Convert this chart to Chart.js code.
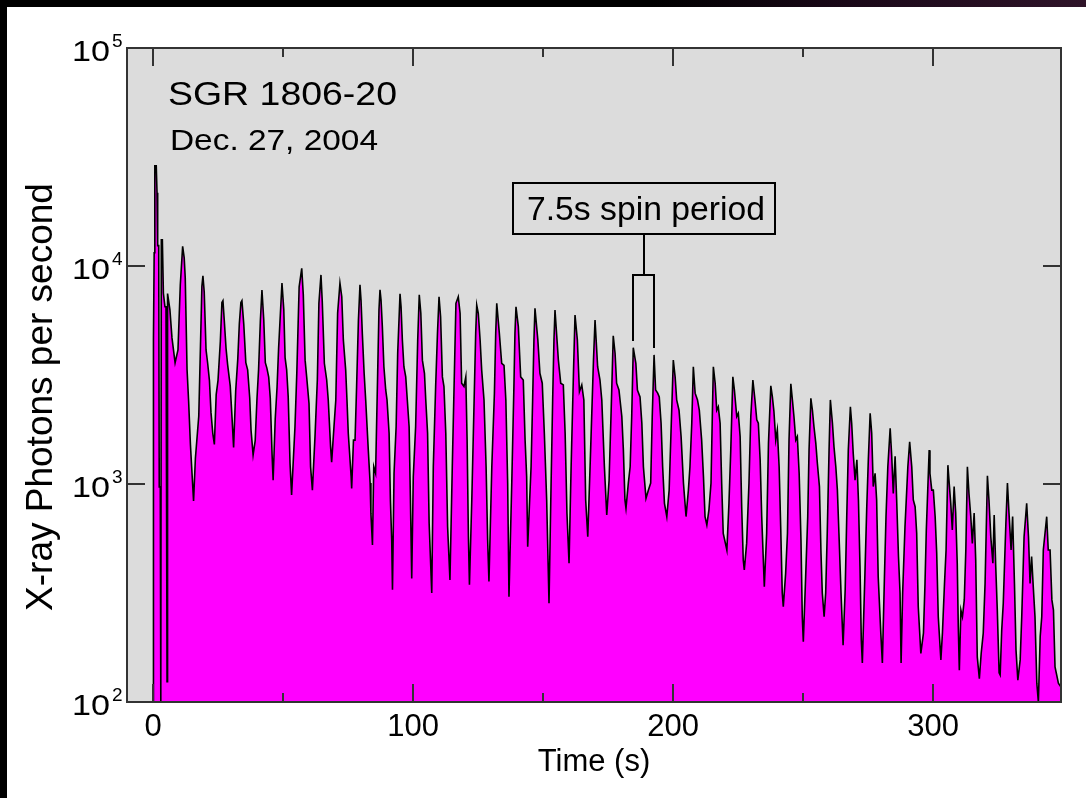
<!DOCTYPE html>
<html>
<head>
<meta charset="utf-8">
<title>SGR 1806-20 light curve</title>
<script src="https://cdn.jsdelivr.net/npm/chart.js@4.4.1/dist/chart.umd.min.js"></script>
<style>
    html, body { margin: 0; padding: 0; background: #ffffff; }
    #wrap { position: relative; width: 1086px; height: 798px; overflow: hidden; }
    #lightCurve { position: absolute; left: 0; top: 0; }
    .edge { position: absolute; z-index: 2; }
    #edgeLeft { left: 0; top: 0; width: 7px; height: 798px; background: #000; }
    #edgeTop { left: 0; top: 0; width: 1086px; height: 7px;
        background: linear-gradient(to right, #000 0%, #000 60%, #1a0818 78%, #2f1429 100%); }
</style>
</head>
<body>
<div id="wrap">
    <canvas id="lightCurve" width="1086" height="798"></canvas>
    <div class="edge" id="edgeLeft"></div>
    <div class="edge" id="edgeTop"></div>
</div>
<script>
// Light curve values (time in s, photons per second)
const timeSec = [
    0.0, 0.1, 0.25, 0.45, 0.7, 1.25, 1.55, 1.8, 2.2, 2.4, 2.8, 3.0, 3.2, 3.6, 4.0, 4.6, 5.0, 5.2, 5.4,
    5.6, 6.5, 7.3, 8.5, 9.6, 10.5, 11.4, 12.0, 12.4, 13.1, 13.7, 14.4, 15.6,
    16.3, 17.6, 18.2, 18.8, 19.2, 19.7, 20.4, 21.0, 21.7, 22.3, 23.0, 23.6,
    24.3, 25.0, 25.9, 26.5, 26.9, 27.4, 28.1, 28.7, 29.7, 30.4, 31.0,
    31.8, 32.6, 33.2, 33.8, 34.2, 34.9, 35.7, 36.4, 37.2, 37.7, 38.5,
    39.3, 40.0, 40.6, 41.3, 41.9, 42.6, 43.2, 43.8, 44.5, 45.1, 45.8, 46.2,
    47.0, 47.7, 48.3, 49.0, 49.6, 50.3, 50.8, 51.4, 52.0, 52.7, 53.3,
    54.6, 55.3, 56.2, 57.2, 57.8, 58.5, 59.1, 60.0, 60.6, 61.3,
    62.3, 63.2, 63.8, 64.6, 65.1, 65.9, 66.8, 67.4, 68.3, 68.7,
    69.6, 70.3, 71.0, 71.9, 72.6, 73.2, 74.1, 74.6, 75.1, 76.2, 76.4,
    77.1, 77.7, 78.3, 79.0, 79.6, 80.0, 80.5, 81.2, 81.8, 82.8, 83.5, 83.8, 84.4,
    84.9, 85.6, 86.4, 86.9, 87.3, 87.7, 88.2, 88.8, 89.5, 90.0, 90.8, 91.3, 91.8, 92.1,
    92.7, 93.5, 94.1, 95.0, 95.4, 95.9, 96.5, 97.2, 97.8, 98.5, 99.0, 99.5,
    100.1, 101.0, 101.8, 102.4, 103.0, 103.6, 104.4, 104.9, 105.6, 106.2, 107.2,
    107.8, 108.7, 109.4, 110.0, 110.6, 111.3, 111.9, 112.6, 113.3, 114.2,
    115.1, 115.9, 116.5, 117.4, 118.1, 118.7, 119.6, 120.3, 120.8, 121.3, 121.7,
    122.6, 123.5, 124.1, 124.5, 125.1, 125.8, 126.4, 127.3, 128.1, 128.7, 129.2,
    130.3, 131.3, 131.8, 132.2, 133.2, 134.1, 135.0, 135.7, 136.4, 136.9,
    138.0, 138.8, 139.2, 139.6, 140.5, 141.4, 142.4, 143.1, 143.7, 144.1,
    145.4, 146.0, 146.5, 146.9, 148.0, 148.8, 149.7, 150.5, 151.4, 152.3,
    153.1, 153.7, 154.2, 154.6, 155.9, 156.8, 157.8, 158.5, 159.2, 160.0,
    160.8, 161.7, 162.3, 163.2, 164.0, 164.9, 165.7, 166.4, 167.2,
    168.3, 169.4, 170.0, 171.0, 171.9, 172.6, 173.6, 174.5,
    175.4, 176.2, 177.0, 177.7, 178.3, 179.2, 180.3, 180.9, 181.5, 181.9,
    182.8, 183.5, 184.1, 184.7, 185.7, 186.3, 187.3, 188.0, 188.6, 189.6,
    190.5, 191.4, 192.0, 192.7, 193.3, 194.1, 194.7, 195.4, 196.0, 196.7, 197.6,
    198.5, 199.2, 200.1, 200.8, 201.4, 202.3, 203.1, 204.0, 205.0,
    205.9, 206.5, 207.2, 207.8, 208.5, 209.4, 210.1, 211.0, 211.7, 212.3, 213.0,
    213.8, 214.6, 215.1, 215.5, 216.2, 216.8, 217.4, 218.1, 218.7, 219.3, 220.7,
    221.5, 222.2, 223.0, 223.6, 224.5, 225.1, 225.8, 226.4, 227.0, 227.4,
    228.3, 229.2, 229.9, 230.7, 231.5, 232.2, 232.8, 233.5, 234.1, 235.1,
    236.0, 236.7, 237.6, 238.2, 238.8, 239.5, 240.1, 240.8, 241.4, 242.0, 242.4,
    243.3, 244.0, 244.6, 245.3, 245.9, 246.5, 247.2, 247.8, 248.5, 249.2, 249.7, 250.1,
    251.0, 251.8, 252.3, 253.0, 253.6, 254.2, 254.9, 255.5, 256.3, 256.9, 257.4, 258.1,
    258.7, 259.3, 260.0, 260.5, 261.3, 261.9, 262.6, 263.2, 263.8, 264.6, 265.4,
    266.2, 266.8, 267.4, 268.2, 268.7, 269.3, 270.0, 270.7, 271.3, 271.9, 272.4, 272.8,
    273.8, 274.5, 275.1, 275.8, 276.4, 277.0, 277.7, 278.3, 278.9, 279.9, 280.5,
    281.3, 281.9, 282.6, 283.5, 284.1, 284.7, 285.4, 286.0, 286.7, 287.3, 287.7,
    288.3, 289.2, 290.3, 291.0, 291.8, 292.4, 293.1, 293.7, 294.3, 295.3,
    296.3, 296.9, 297.4, 298.5, 298.8, 299.5, 300.1, 300.8, 301.4, 302.0, 303.0,
    303.6, 304.4, 305.0, 305.7, 306.2, 306.8, 307.4, 308.1, 308.7, 309.3, 309.7, 310.1,
    310.7, 311.3, 312.0, 312.6, 313.2, 313.8, 314.5, 315.1, 315.8, 316.4, 317.0, 317.8,
    318.5, 319.3, 320.0, 320.9, 321.5, 322.2, 323.0, 323.5, 324.1, 324.7, 325.4, 325.8,
    326.4, 327.0, 328.0, 328.6, 329.2, 330.0, 330.6, 331.3, 331.9, 332.6,
    333.5, 334.1, 335.0, 336.0, 336.7, 337.3, 337.9, 338.6, 339.2, 339.9, 340.5,
    341.2, 341.8, 342.4, 343.7, 344.3, 345.0, 345.7, 346.3, 346.9, 348.2, 349.2
];

const photonRate = [
    100, 750, 4600, 11500, 28800, 28800, 21700, 12400, 12400, 970, 970, 100, 13200, 13200, 7500, 6500, 6500, 990, 124,
    7470, 6310, 4680, 3600, 4120, 8200, 12300, 10900, 8830, 3340, 2400, 1510, 835,
    1310, 2050, 4040, 8060, 9010, 7600, 4120, 3600, 2990, 2130, 1700, 1520,
    2570, 2990, 4510, 6800, 6930, 5650, 4180, 3530, 2820, 2010, 1470,
    2670, 3740, 5430, 6800, 6930, 5430, 3600, 3340, 2480, 1770, 1360,
    1580, 2480, 3340, 5650, 7760, 5650, 3600, 3400, 3090, 2480, 1360, 1040,
    1980, 2770, 4180, 6080, 8350, 6310, 3800, 3340, 2510, 1245, 891,
    1830, 3220, 8030, 9750, 7370, 3700, 3100, 2340, 1200, 937,
    1650, 3000, 6740, 9100, 6860, 3580, 3000, 2430, 1480, 1260,
    1830, 2430, 6070, 8340, 7230, 4580, 3340, 2430, 1710, 1080, 955,
    1590, 1590, 2800, 5650, 8190, 6980, 4910, 3220, 2430, 1430, 1010, 735, 525,
    1200, 1120, 3220, 6280, 7770, 6980, 5270, 3450, 2700, 2430, 1710, 845, 553, 327,
    1120, 1830, 3980, 7450, 6500, 4580, 3450, 3100, 2430, 1830, 845, 369,
    1080, 1830, 4580, 7370, 6070, 3700, 3220, 2430, 1710, 661, 316,
    1200, 2800, 4910, 7230, 5860, 3100, 2800, 1710, 636, 363,
    1200, 3220, 6740, 7230, 6070, 2900, 2800, 3100, 1590, 573, 345,
    845, 2430, 4910, 6620, 6070, 4580, 3340, 2430, 1200, 553, 357,
    1200, 2610, 4910, 6740, 4910, 3580, 3500, 2430, 1010, 304,
    1040, 2800, 4910, 6500, 5270, 3100, 3000, 1590, 1080, 516,
    1200, 2430, 4580, 6400, 4580, 3220, 2900, 1710, 845, 284,
    1010, 2430, 4580, 6280, 3700, 2900, 2850, 1710, 735, 433,
    1200, 3220, 5960, 4580, 2650, 2850, 2430, 845, 573,
    1430, 3700, 5650, 3450, 3000, 2430, 1200, 721,
    1040, 2180, 4780, 3980, 2900, 2700, 2040, 1430, 845, 774,
    1010, 1200, 2040, 4220, 3580, 2700, 2510, 1900, 1200, 860,
    937, 1010, 2040, 3910, 2700, 2610, 2510, 1900, 1200, 815, 709,
    937, 1710, 3700, 3100, 2430, 2180, 1650, 1010, 709,
    937, 1200, 1900, 3450, 2610, 2430, 2180, 1590, 1080, 709, 649,
    760, 1010, 2040, 3450, 2900, 2180, 2260, 1900, 1010, 594, 498,
    815, 1430, 3100, 2700, 2040, 2110, 1650, 787, 448, 404,
    534, 1010, 2040, 3000, 2430, 1970, 1900, 1290, 709, 338,
    594, 1540, 2820, 2510, 2150, 1590, 1770, 1200, 636, 316, 274,
    389, 594, 1590, 2880, 2430, 2040, 1590, 1650, 1120, 553, 246, 189,
    376, 709, 1430, 2470, 2180, 1830, 1540, 1245, 973, 481, 316, 246,
    316, 594, 1430, 2430, 1900, 1480, 1200, 937, 594, 316, 182,
    327, 709, 1430, 2260, 1900, 1380, 1040, 1290, 845, 418, 192, 151,
    389, 787, 1290, 2110, 1710, 973, 1120, 845, 376, 207, 151,
    376, 709, 1200, 1800, 1340, 906, 1340, 845, 465, 316, 151,
    316, 636, 1200, 1560, 1200, 845, 787, 594, 274, 167,
    207, 350, 615, 1430, 1120, 937, 937, 709, 481, 246, 156,
    207, 350, 498, 1220, 1010, 815, 615, 973, 735, 433, 221, 140,
    264, 246, 294, 498, 1200, 906, 709, 534, 735, 448, 161, 128,
    167, 207, 350, 1090, 845, 573, 433, 721, 418, 264, 136, 133,
    214, 284, 661, 1010, 735, 498, 709, 350, 173, 126,
    156, 246, 573, 815, 573, 350, 465, 327, 246, 122, 100,
    200, 246, 498, 708, 498, 498, 294, 264, 145, 122, 117
];

// axis ticks
const xMajorTicks = [0, 100, 200, 300];
const xMinorTicks = [50, 150, 250];
const yDecades = [2, 3, 4, 5];

// the two pulses the "7.5s spin period" bracket points at
const bracketPulses = [184.7, 192.7];

const FONT = '"Liberation Sans", Arial, Helvetica, sans-serif';

// draw text, optionally squeezed/stretched to a given width
function fitText(ctx, text, x, y, size, width, align, baseline) {
    ctx.save();
    ctx.font = size + 'px ' + FONT;
    ctx.textAlign = align || 'left';
    ctx.textBaseline = baseline || 'alphabetic';
    const natural = ctx.measureText(text).width;
    ctx.translate(x, y);
    if (width) ctx.scale(width / natural, 1);
    ctx.fillText(text, 0, 0);
    ctx.restore();
}

const plotDecor = {
    id: 'plotDecor',
    beforeDatasetsDraw(chart) {
        const { ctx, chartArea: a } = chart;
        ctx.save();
        ctx.fillStyle = '#dcdcdc';
        ctx.fillRect(a.left, a.top, a.right - a.left, a.bottom - a.top);
        ctx.restore();
    },
    afterDatasetsDraw(chart) {
        const { ctx, chartArea: a, scales: { x, y } } = chart;
        const seg = (x1, y1, x2, y2) => {
            ctx.beginPath();
            ctx.moveTo(x1, y1);
            ctx.lineTo(x2, y2);
            ctx.stroke();
        };

        ctx.save();
        ctx.strokeStyle = '#333';
        ctx.lineWidth = 2;
        // inward ticks on all four sides
        xMajorTicks.forEach(v => {
            const p = Math.round(x.getPixelForValue(v));
            seg(p, a.bottom, p, a.bottom - 18);
            seg(p, a.top, p, a.top + 18);
        });
        xMinorTicks.forEach(v => {
            const p = Math.round(x.getPixelForValue(v));
            seg(p, a.bottom, p, a.bottom - 9);
            seg(p, a.top, p, a.top + 9);
        });
        yDecades.forEach(k => {
            const p = Math.round(y.getPixelForValue(Math.pow(10, k)));
            seg(a.left, p, a.left + 18, p);
            seg(a.right, p, a.right - 18, p);
        });
        ctx.strokeRect(a.left, a.top, a.right - a.left, a.bottom - a.top);
        ctx.restore();

        // y tick labels as 10 with a raised exponent
        ctx.save();
        ctx.fillStyle = '#000';
        yDecades.forEach(k => {
            const p = y.getPixelForValue(Math.pow(10, k));
            fitText(ctx, '10', a.left - 17, p + 5, 30, 38, 'right', 'middle');
            fitText(ctx, String(k), a.left - 15, p - 1, 19, 0, 'left', 'alphabetic');
        });

        // y axis title
        ctx.save();
        ctx.translate(52, 397);
        ctx.rotate(-Math.PI / 2);
        ctx.font = '37px ' + FONT;
        ctx.textAlign = 'center';
        ctx.textBaseline = 'alphabetic';
        ctx.fillText('X-ray Photons per second', 0, 0);
        ctx.restore();

        // annotations
        fitText(ctx, 'SGR 1806-20', a.left + 41, a.top + 57, 33, 229);
        fitText(ctx, 'Dec. 27, 2004', a.left + 43, a.top + 102, 29, 208);

        ctx.strokeStyle = '#000';
        ctx.lineWidth = 2;
        ctx.strokeRect(513, 183, 262, 51);
        fitText(ctx, '7.5s spin period', 527, 220, 33, 238);

        const l = Math.round(x.getPixelForValue(bracketPulses[0]));
        const r = Math.round(x.getPixelForValue(bracketPulses[1]));
        const mid = Math.round((l + r) / 2);
        seg(mid, 234, mid, 275);
        seg(l - 1, 275, r + 1, 275);
        seg(l, 275, l, 341);
        seg(r, 275, r, 348);
        ctx.restore();
    }
};

Chart.defaults.font.family = FONT;

new Chart(document.getElementById('lightCurve'), {
    type: 'line',
    data: {
        datasets: [
            {
                label: 'SGR 1806-20',
                data: timeSec.map((t, i) => ({ x: t, y: photonRate[i] })),
                borderColor: '#000000',
                borderWidth: 1.6,
                backgroundColor: '#ff00ff',
                fill: 'start',
                pointRadius: 0,
                tension: 0
            }
        ]
    },
    options: {
        responsive: false,
        animation: false,
        devicePixelRatio: 1,
        layout: {
            padding: { left: 0, top: 48, right: 25, bottom: 0 }
        },
        plugins: {
            legend: { display: false },
            tooltip: { enabled: false }
        },
        scales: {
            x: {
                type: 'linear',
                min: -10,
                max: 349.2,
                grid: { display: false, drawTicks: false },
                border: { display: false },
                ticks: {
                    stepSize: 100,
                    includeBounds: false,
                    color: '#000',
                    font: { size: 31 },
                    padding: 7,
                    maxRotation: 0
                },
                title: {
                    display: true,
                    text: 'Time (s)',
                    color: '#000',
                    font: { size: 31 },
                    padding: { top: 0, bottom: 17 }
                },
                afterFit: s => { s.height = 96; }
            },
            y: {
                type: 'logarithmic',
                min: 100,
                max: 100000,
                grid: { display: false, drawTicks: false },
                border: { display: false },
                ticks: { display: false },
                afterFit: s => { s.width = 127; }
            }
        }
    },
    plugins: [plotDecor]
});
</script>
</body>
</html>
